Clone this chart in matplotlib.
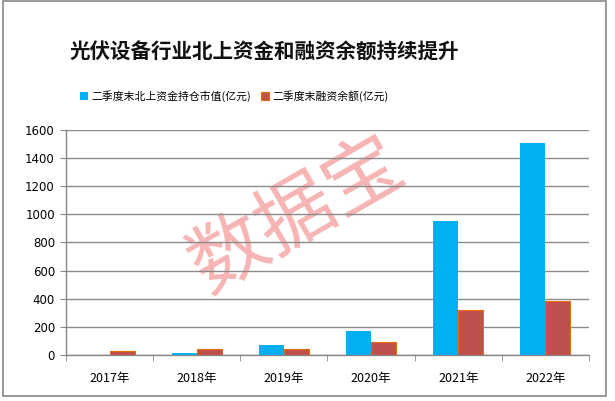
import matplotlib
matplotlib.use("Agg")
from matplotlib import pyplot as plt
from matplotlib.patches import Rectangle
import numpy as np

plt.rcParams['font.family'] = ['Noto Sans CJK SC', 'DejaVu Sans']

years = ['2017年', '2018年', '2019年', '2020年', '2021年', '2022年']
north_funds = [0, 12, 69, 173, 955, 1510]
margin_balance = [32, 45, 45, 92, 322, 384]
labels = ['二季度末北上资金持仓市值(亿元)', '二季度末融资余额(亿元)']

fig = plt.figure(figsize=(6.15, 4.01), dpi=100)
ax = fig.add_axes([0.1073, 0.1147, 0.8504, 0.5612])
ax.patch.set_alpha(0)

x = np.arange(len(years))
w = 0.287
b1 = ax.bar(x - w / 2, north_funds, w, color='#00B0F0', label=labels[0], zorder=3)
b2 = ax.bar(x + w / 2, margin_balance, w, color='#C0504D', edgecolor='#E46C0A',
            linewidth=0.8, label=labels[1], zorder=3)

ax.set_ylim(0, 1600)
ax.set_yticks(range(0, 1601, 200))
ax.set_xlim(-0.5, len(years) - 0.5)
ax.set_xticks(x)
ax.set_xticklabels(years, fontsize=9)
ax.tick_params(axis='x', length=0, pad=12)
ax.set_xticks(np.arange(-0.5, len(years), 1), minor=True)
ax.tick_params(axis='x', which='minor', length=4, color='#888888', direction='out')
ax.tick_params(axis='y', labelsize=8.5, length=4, color='#888888', direction='out', pad=4)
for lab in ax.get_yticklabels():
    lab.set_family('DejaVu Sans')

ax.grid(axis='y', color='#8c8c8c', linewidth=1.0, zorder=0)
for s in ['top', 'right']:
    ax.spines[s].set_visible(False)
for s in ['left', 'bottom']:
    ax.spines[s].set_color('#888888')
    ax.spines[s].set_linewidth(1.0)

fig.text(0.43, 0.87, '光伏设备行业北上资金和融资余额持续提升', ha='center', va='center',
         fontsize=14.8, fontweight='bold', color='#111111')

fig.legend(handles=[b1, b2], labels=labels, loc='center', bbox_to_anchor=(0.381, 0.76),
           ncol=2, frameon=False, fontsize=7.8, handlelength=0.7, handleheight=0.7,
           handletextpad=0.3, columnspacing=1.0)

# watermark, under the gridlines
fig.text(0.485, 0.461, '数据宝', ha='center', va='center', rotation=30,
         fontsize=56, color='#F7B4B4', zorder=-1)

# outer border
fig.patches.append(Rectangle((3 / 615, 5 / 401), 603 / 615, 395 / 401,
                             transform=fig.transFigure, fill=False,
                             edgecolor='#888888', linewidth=1.2))

fig.savefig('out.png', dpi=100)
